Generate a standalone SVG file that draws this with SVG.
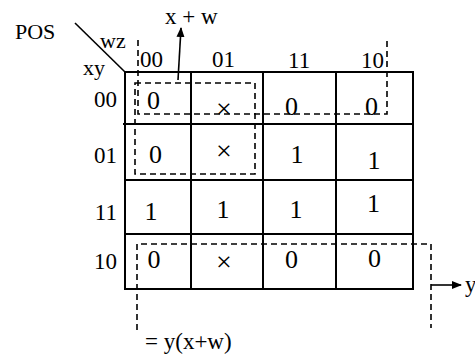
<svg xmlns="http://www.w3.org/2000/svg" width="475" height="360" viewBox="0 0 475 360">
<defs>
<style>
text{font-family:"Liberation Serif","Times New Roman",serif;font-size:22px;fill:#000}
.h{font-size:23px}
.v{text-anchor:middle;font-size:26px}
.x{text-anchor:middle;font-size:28px}
.grid{fill:none;stroke:#000;stroke-width:2}
.dash{fill:none;stroke:#000;stroke-width:1.6;stroke-dasharray:6,4}
.ln{fill:none;stroke:#000;stroke-width:1.6}
</style>
<marker id="ah" viewBox="0 0 10 10" refX="9" refY="5" markerWidth="10" markerHeight="10" markerUnits="userSpaceOnUse" orient="auto">
<path d="M0,1 L10,5 L0,9 Z" fill="#000"/>
</marker>
</defs>
<rect width="475" height="360" fill="#fff"/>
<g id="labels">
<text x="15" y="39">POS</text>
<line class="ln" x1="75" y1="23" x2="125" y2="72"/>
<text x="100" y="48">wz</text>
<text x="83" y="75">xy</text>
<text class="h" x="140" y="67">00</text>
<text class="h" x="212" y="67">01</text>
<text class="h" x="288" y="68">11</text>
<text class="h" x="361" y="68">10</text>
<text class="h" x="117" y="107" text-anchor="end">00</text>
<text class="h" x="117" y="163" text-anchor="end">01</text>
<text class="h" x="117" y="220" text-anchor="end">11</text>
<text class="h" x="117" y="269" text-anchor="end">10</text>
</g>
<g id="kmap">
<rect class="grid" x="125" y="72" width="288" height="217"/>
<line class="grid" x1="191" y1="72" x2="191" y2="289"/>
<line class="grid" x1="263" y1="72" x2="263" y2="289"/>
<line class="grid" x1="336" y1="72" x2="336" y2="289"/>
<line class="grid" x1="123" y1="124" x2="413" y2="124"/>
<line class="grid" x1="125" y1="180" x2="413" y2="180"/>
<line class="grid" x1="125" y1="234" x2="413" y2="234"/>
</g>
<g id="cells">
<text class="v" x="153.5" y="109">0</text>
<text class="x" x="224" y="118">×</text>
<text class="v" x="291.5" y="115">0</text>
<text class="v" x="371.5" y="115">0</text>
<text class="v" x="155.5" y="163">0</text>
<text class="x" x="224" y="160">×</text>
<text class="v" x="297" y="163">1</text>
<text class="v" x="374" y="169">1</text>
<text class="v" x="151" y="220">1</text>
<text class="v" x="223" y="218">1</text>
<text class="v" x="296" y="218">1</text>
<text class="v" x="373.5" y="212">1</text>
<text class="v" x="154" y="268">0</text>
<text class="x" x="224" y="271">×</text>
<text class="v" x="291.5" y="268">0</text>
<text class="v" x="374.5" y="267">0</text>
</g>
<g id="connectors">
<rect class="dash" x="135" y="83" width="120" height="91"/>
<path class="dash" d="M138,40 V114 H387 V38"/>
<path class="dash" d="M137,330 V244 H431 V328"/>
<line class="ln" x1="178" y1="80" x2="181" y2="28" marker-end="url(#ah)"/>
<line class="ln" x1="431" y1="285" x2="461" y2="285" marker-end="url(#ah)"/>
</g>
<g id="results">
<text class="h" x="165" y="24">x + w</text>
<text class="h" x="465" y="292">y</text>
<text class="h" x="145" y="349">= y(x+w)</text>
</g>
</svg>
